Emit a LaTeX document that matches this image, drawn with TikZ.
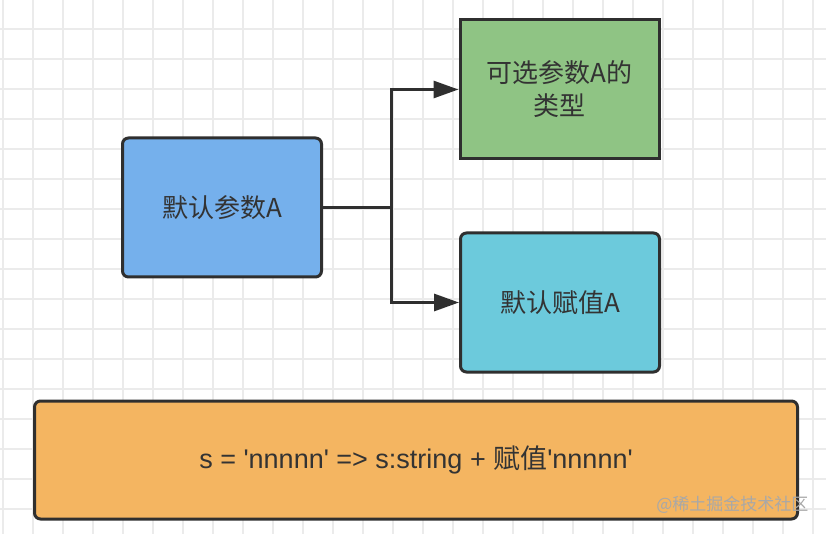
\documentclass[tikz,border=0pt]{standalone}
\usepackage{fontspec}
\setmainfont{Noto Sans CJK SC}
\newfontfamily\latfont{Liberation Sans}
\usepackage{xcolor}
\usetikzlibrary{arrows.meta}
\definecolor{gridgray}{HTML}{EBEBEB}
\definecolor{edgegray}{HTML}{2F2F2F}
\definecolor{txtgray}{HTML}{333333}
\definecolor{boxblue}{HTML}{75B0EC}
\definecolor{boxgreen}{HTML}{8FC484}
\definecolor{boxcyan}{HTML}{6CCADC}
\definecolor{boxorange}{HTML}{F4B561}
\definecolor{markgray}{HTML}{A8A8A8}
\newcommand{\qt}{\textquotesingle}
\begin{document}
\begin{tikzpicture}[x=1pt, y=-1pt,
  gridline/.style={gridgray, line width=1.5pt},
  block/.style={draw=edgegray, line width=3pt, rounded corners=6pt,
    minimum width=199pt, minimum height=139pt, text=txtgray,
    font=\fontsize{26}{33}\selectfont, align=center},
  link/.style={edgegray, line width=3pt},
  arr/.style={link, -{Triangle[length=25pt, width=17pt]}}]
\useasboundingbox (0,0) rectangle (826,534);
% сетка
\fill[white] (0,0) rectangle (826,534);
\foreach \gx in {3,33,...,813} \draw[gridline] (\gx,0) -- (\gx,534);
\foreach \gy in {29,59,...,509} \draw[gridline] (0,\gy) -- (826,\gy);
% блоки
\node [block, fill=boxblue] (def) at (222,207.5) {默认参数A};
\node [block, fill=boxgreen, rounded corners=0pt] (opt) at (559.5,89.5) {可选参数A的\\类型};
\node [block, fill=boxcyan] (assign) at (560,302.5) {默认赋值A};
\node [block, fill=boxorange, minimum width=763pt, minimum height=118pt,
  font=\fontsize{27}{33}\selectfont] (expr) at (416,460)
  {{\latfont s = \qt nnnnn\qt{} => s:string + }赋值{\latfont\qt nnnnn\qt}};
% стрелки
\coordinate (fork) at (391,207.5);
\draw [link] (def.east) -- (fork);
\draw [arr] (fork) |- (opt.west);
\draw [arr] (fork) |- (assign.west);
% подписи
\node [markgray, font=\fontsize{17}{20}\selectfont, anchor=east] (mark) at (812,505) {@稀土掘金技术社区};
\end{tikzpicture}
\end{document}
